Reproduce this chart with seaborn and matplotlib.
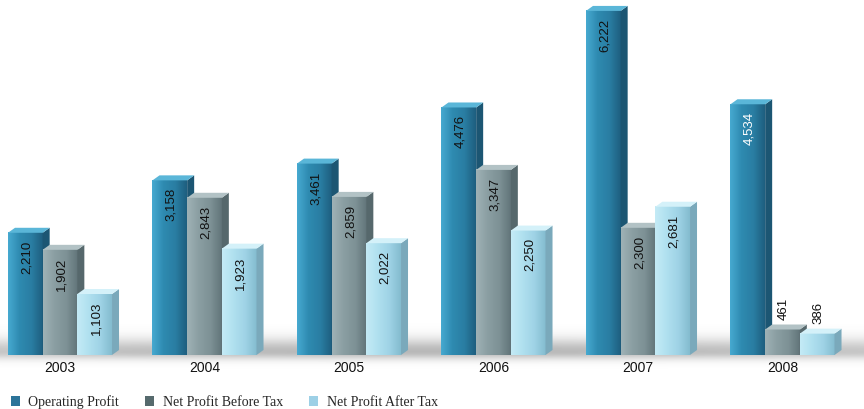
import numpy as np
import pandas as pd
import matplotlib
matplotlib.use("Agg")
import matplotlib.pyplot as plt
import seaborn as sns
from matplotlib.colors import LinearSegmentedColormap
from matplotlib.patches import Polygon, Patch

# ---- data -------------------------------------------------------------
years = ["2003", "2004", "2005", "2006", "2007", "2008"]
operating_profit = [2210, 3158, 3461, 4476, 6222, 4534]
net_profit_before_tax = [1902, 2843, 2859, 3347, 2300, 461]
net_profit_after_tax = [1103, 1923, 2022, 2250, 2681, 386]
series_names = ["Operating Profit", "Net Profit Before Tax", "Net Profit After Tax"]

df = pd.DataFrame({
    "Year": years * 3,
    "Series": np.repeat(series_names, len(years)),
    "Value": operating_profit + net_profit_before_tax + net_profit_after_tax,
})

# ---- styling ----------------------------------------------------------
sns.set_style("white")
plt.rcParams["font.family"] = ["Liberation Sans", "DejaVu Sans"]

base_colors = ["#2e88ae", "#7f9397", "#a6d8ea"]
# left-to-right shading of each bar face (highlight -> body -> shadow)
face_ramps = [
    ["#46a9d0", "#2e8ab0", "#2a7ea3", "#1e5f80"],
    ["#9fb2b6", "#8a9ea2", "#7e9296", "#62757a"],
    ["#c4ebf6", "#b0e0ef", "#9fd3e6", "#84bccf"],
]
side_colors = ["#1c5673", "#56686c", "#7aa9bb"]
top_colors = ["#5ab6d8", "#b2c2c5", "#d4f1f9"]
legend_colors = ["#2c7499", "#566a6d", "#9dd0e6"]

W, H = 864, 409
fig = plt.figure(figsize=(W / 100, H / 100), dpi=100)

# soft floor shadow behind the bars
bg = fig.add_axes([0, 0, 1, 1], zorder=0)
bg.set_xlim(0, W)
bg.set_ylim(H, 0)
bg.axis("off")
yy = np.arange(H)[:, None].astype(float)
xx = np.arange(W)[None, :].astype(float)
centre = 351.0
sig = np.where(yy < centre, 9.0, 5.5)
alpha_v = np.exp(-0.5 * ((yy - centre) / sig) ** 2)
alpha_h = 0.8 + 0.2 * np.sin(np.pi * np.clip(xx / W, 0, 1))
alpha = 0.5 * alpha_v * alpha_h
shadow = np.zeros((H, W, 4))
shadow[..., :3] = 0.45
shadow[..., 3] = alpha
bg.imshow(shadow, extent=(0, W, H, 0), aspect="auto", interpolation="bilinear")

# main bar axes
ax = fig.add_axes([0, 54 / H, 1, 355 / H], zorder=1)
ax.patch.set_alpha(0)
sns.barplot(data=df, x="Year", y="Value", hue="Series", hue_order=series_names,
            palette=base_colors, width=0.72, saturation=1, errorbar=None,
            legend=False, ax=ax)

STEP = 144.5
XMIN, XMAX = -60 / STEP, (W - 60) / STEP
YMAX = 355 / 0.0553
dx = 7 / STEP           # depth of the extruded side, x data units
dy = 5 / 0.0553         # depth of the extruded side, y data units
grad = np.linspace(0, 1, 64)[None, :]

for i, cont in enumerate(ax.containers):
    cmap = LinearSegmentedColormap.from_list(f"face{i}", face_ramps[i])
    z = 2 + i
    for j, bar in enumerate(cont):
        x0, w, h = bar.get_x(), bar.get_width(), bar.get_height()
        x1 = x0 + w
        bar.set_zorder(z)
        bar.set_edgecolor("none")
        ax.imshow(grad, extent=(x0, x1, 0, h), aspect="auto", cmap=cmap,
                  interpolation="bilinear", zorder=z + 0.01)
        ax.add_patch(Polygon([(x1, 0), (x1 + dx, dy), (x1 + dx, h + dy), (x1, h)],
                             closed=True, facecolor=side_colors[i],
                             edgecolor="none", zorder=z + 0.02))
        ax.add_patch(Polygon([(x0, h), (x1, h), (x1 + dx, h + dy), (x0 + dx, h + dy)],
                             closed=True, facecolor=top_colors[i],
                             edgecolor="none", zorder=z + 0.02))
        label = f"{h:,.0f}"
        cx = x0 + w / 2 + 0.01
        if h > 1000:
            color = "white" if (i == 0 and years[j] == "2008") else "#111111"
            ax.text(cx, h - 140, label, rotation=90, ha="center", va="top",
                    fontsize=9.5, color=color, zorder=10)
        else:
            ax.text(cx, h + dy + 90, label, rotation=90, ha="center",
                    va="bottom", fontsize=9.5, color="#111111", zorder=10)

ax.set_xlim(XMIN, XMAX)
ax.set_ylim(0, YMAX)
ax.set_yticks([])
ax.set_xlabel("")
ax.set_ylabel("")
ax.tick_params(axis="x", length=0, pad=4, labelsize=10, labelcolor="#111111")
for s in ax.spines.values():
    s.set_visible(False)

handles = [Patch(facecolor=c, edgecolor="none") for c in legend_colors]
fig.legend(handles, series_names, loc="lower left", bbox_to_anchor=(-0.002, -0.03),
           ncol=3, frameon=False, handlelength=0.65, handleheight=0.65,
           handletextpad=0.6, columnspacing=1.9,
           prop={"family": "Liberation Serif", "size": 10})

fig.savefig("out.png", dpi=100)
